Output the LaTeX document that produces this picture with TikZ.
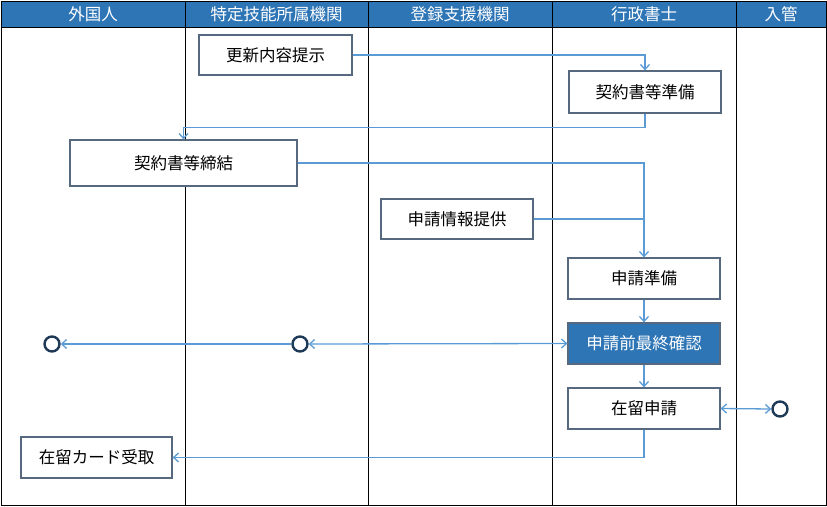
\documentclass[tikz,border=0pt]{standalone}
\usepackage{fontspec}
\setmainfont{Noto Sans CJK JP}
\usetikzlibrary{arrows.meta}
\definecolor{hdrblue}{HTML}{2E75B6}
\definecolor{conn}{HTML}{5B9BD5}
\definecolor{boxline}{HTML}{56697F}
\definecolor{navy}{HTML}{1F3A56}
\tikzset{
  x=1pt,y=-1pt,
  hdr/.style={text=white,font=\fontsize{16.5}{19}\selectfont},
  stepbox/.style={draw=boxline,line width=1.2pt,fill=white,inner sep=0pt,minimum width=152pt,minimum height=41pt,font=\fontsize{16.5}{19}\selectfont},
  keybox/.style={stepbox,fill=hdrblue,text=white},
  endpt/.style={circle,draw=navy,line width=2.4pt,minimum size=15pt,inner sep=0pt,fill=white},
  flow/.style={draw=conn,line width=1.3pt,-{Straight Barb[length=5pt,width=9pt]}},
  flowboth/.style={draw=conn,line width=1.3pt,{Straight Barb[length=5pt,width=9pt]}-{Straight Barb[length=5pt,width=9pt]}},
  plain/.style={draw=conn,line width=1.3pt}
}
\begin{document}
\begin{tikzpicture}
\useasboundingbox (0,0) rectangle (827,506);
\fill[hdrblue] (1,1) rectangle (826,27);
\draw[line width=1pt] (1,1) rectangle (826,505);
\draw[line width=1pt] (1,27) -- (826,27);
\foreach \cx in {185,368,552,736} \draw[line width=1pt] (\cx,1) -- (\cx,505);
\node[hdr] (h1) at (93,14) {外国人};
\node[hdr] (h2) at (276.5,14) {特定技能所属機関};
\node[hdr] (h3) at (460,14) {登録支援機関};
\node[hdr] (h4) at (644,14) {行政書士};
\node[hdr] (h5) at (781,14) {入管};

\node[stepbox,minimum width=153pt,minimum height=40pt] (update) at (275.5,55) {更新内容提示};
\node[stepbox,minimum height=42pt] (prep) at (645,92) {契約書等準備};
\node[stepbox,minimum width=227pt,minimum height=46pt] (sign) at (183.5,163) {契約書等締結};
\node[stepbox,minimum height=40pt] (info) at (457,219) {申請情報提供};
\node[stepbox] (apprep) at (644,278.5) {申請準備};
\node[keybox] (check) at (644,343.5) {申請前最終確認};
\node[stepbox] (apply) at (644,408.5) {在留申請};
\node[stepbox,minimum width=151pt] (card) at (96.5,457.5) {在留カード受取};

\node[endpt] (c1) at (52,344) {};
\node[endpt] (c2) at (300,344) {};
\node[endpt] (c3) at (780,409) {};

\draw[flow] (update.east) -| (prep.north);
\draw[flow] (prep.south) -- ++(0,14) -| (sign.north);
\draw[flow] (sign.east) -| (apprep.north);
\draw[plain] (info.east) -- (info.east -| apprep.north);
\draw[flow] (apprep.south) -- (check.north);
\draw[flow] (c2.west) -- (c1.east);
\draw[flowboth] (c2.east) -- (check.west);
\draw[flow] (check.south) -- (apply.north);
\draw[flowboth] (apply.east) -- (c3.west);
\draw[flow] (apply.south) |- (card.east);
\end{tikzpicture}
\end{document}
